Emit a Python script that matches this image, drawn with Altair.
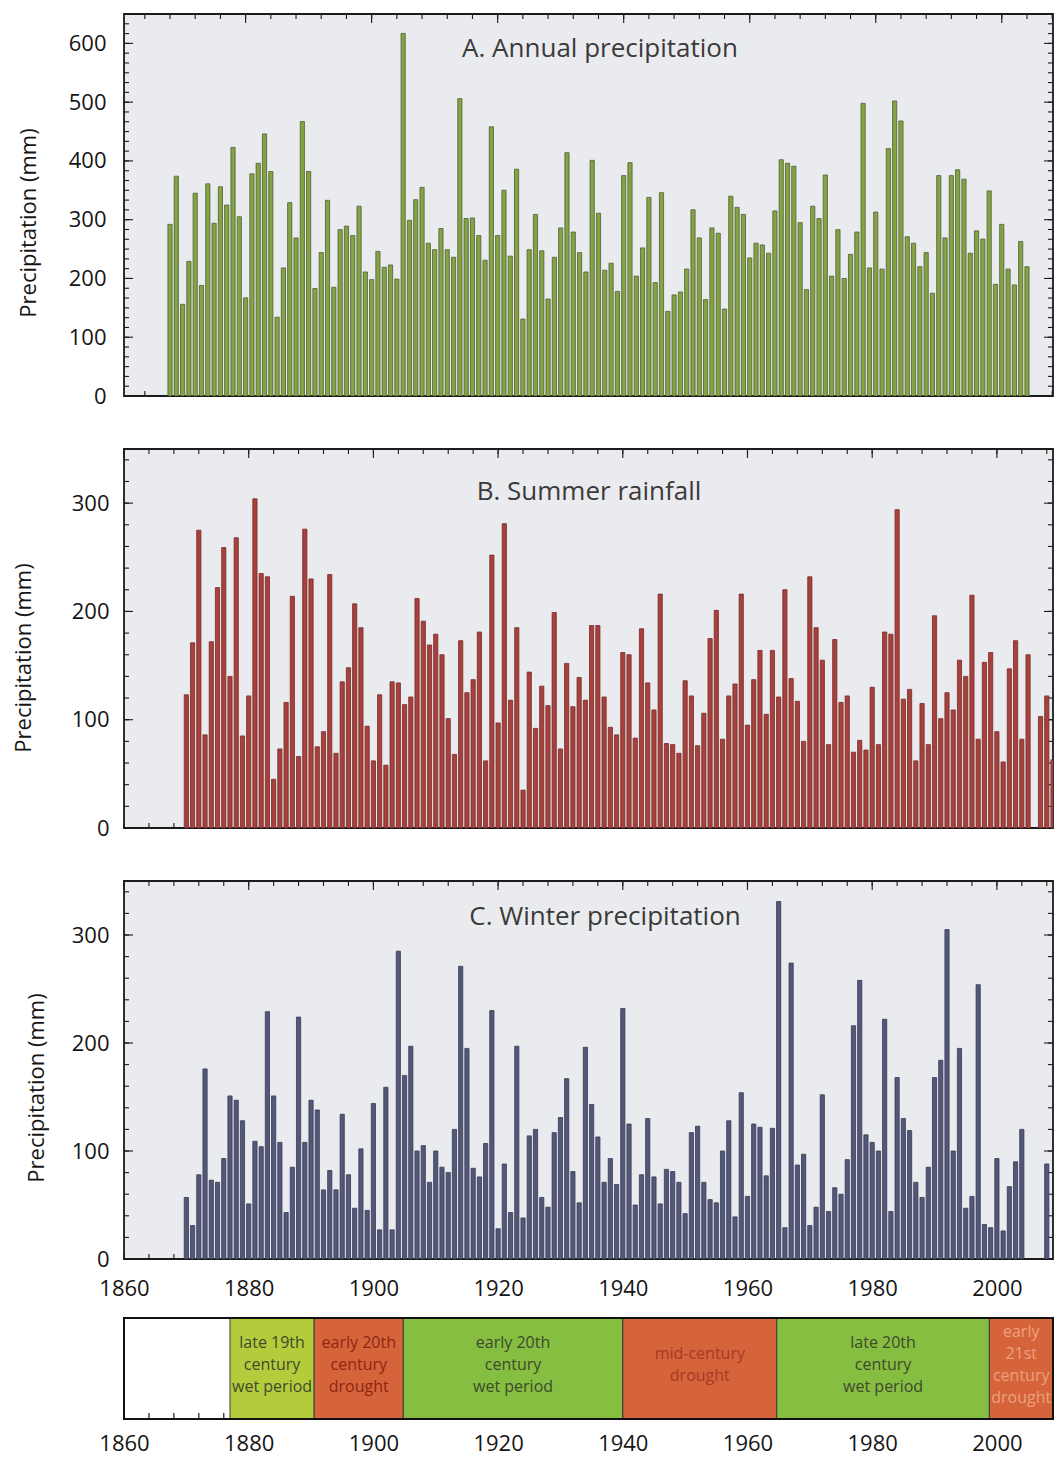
import altair as alt
import pandas as pd

# ---------------- data ----------------
annual_years = list(range(1868, 2005))
annual_mm = [292, 374, 156, 229, 345, 188, 361, 294, 356, 325,
             423, 305, 167, 378, 396, 446, 382, 134, 218, 329,
             269, 467, 382, 183, 244, 333, 185, 283, 289, 273,
             323, 211, 198, 246, 219, 223, 199, 617, 299, 334,
             355, 260, 249, 285, 249, 236, 506, 302, 303, 273,
             231, 458, 273, 350, 238, 386, 131, 249, 309, 247,
             165, 236, 286, 414, 279, 244, 211,
             401, 311, 214, 226, 178, 375, 397, 204, 252, 338,
             193, 346, 144, 172, 177, 216, 317, 269, 164, 286,
             277, 148, 340, 321, 309, 235, 260, 257, 243, 315,
             402, 396, 391, 295, 181, 323, 302, 376, 204, 283,
             200, 241, 279, 498, 218, 313, 216, 421, 502, 468,
             271, 260, 220, 244, 175, 375, 269, 375, 385, 369,
             243, 281, 267, 349, 190, 292, 216, 189, 263, 220]

summer_years = list(range(1870, 2006)) + [2007, 2008, 2009]
summer_mm = [123, 171, 275, 86, 172, 222, 259, 140, 268, 85,
             122, 304, 235, 232, 45, 73, 116, 214, 66, 276,
             230, 75, 89, 234, 69, 135, 148, 207, 185, 94,
             62, 123, 58, 135, 134, 114, 121, 212, 191, 169,
             179, 160, 101, 68, 173, 125, 137, 181, 62, 252,
             97, 281, 118, 185, 35, 144, 92, 131, 113, 199,
             73, 152, 112, 139, 118,
             187, 187, 121, 93, 86, 162, 160, 83, 184, 134,
             109, 216, 78, 77, 69, 136, 122, 76, 106, 175,
             201, 82, 122, 133, 216, 95, 137, 164, 105, 164,
             121, 220, 138, 117, 80, 232, 185, 155, 77, 174,
             116, 122, 70, 81, 72, 130, 77, 181, 179, 294,
             119, 128, 62, 115, 77, 196, 101, 125, 109, 155,
             140, 215, 82, 153, 162, 89, 61, 147, 173, 82,
             160,
             103, 122, 63]

winter_years = list(range(1870, 2005)) + [2008]
winter_mm = [57, 31, 78, 176, 73, 71, 93, 151, 147, 128,
             51, 109, 104, 229, 151, 108, 43, 85, 224, 108,
             147, 138, 64, 82, 64, 134, 78, 47, 102, 45,
             144, 27, 159, 27, 285, 170, 197,
             100, 105, 71, 100, 85, 80, 120, 271, 195, 84,
             76, 107, 230, 28, 88, 43, 197, 38, 114, 120,
             57, 48, 117, 131, 167, 81, 52, 196, 143, 113,
             71, 93, 69, 232, 125, 50, 78,
             130, 76, 51, 83, 81, 71, 42, 117, 123, 71,
             55, 52, 100, 128, 39, 154, 58, 125, 122, 77,
             121, 331, 29, 274, 87, 97, 31, 48, 152, 44,
             66, 60, 92, 216, 258, 115, 108,
             100, 222, 44, 168, 130, 119, 71, 57, 85, 168,
             184, 305, 100, 195, 47, 58, 254, 32, 29, 93,
             26, 67, 90, 120,
             88]

period_labels = ["late 19th|century|wet period",
                 "early 20th|century|drought",
                 "early 20th|century|wet period",
                 "mid-century|drought",
                 "late 20th|century|wet period",
                 "early|21st|century|drought"]
period_start = [1877, 1890.5, 1904.8, 1940, 1964.7, 1998.8]
period_end = [1890.5, 1904.8, 1940, 1964.7, 1998.8, 2009.0]
period_kind = ["late wet", "drought", "wet", "drought", "wet", "drought"]

year_labels = [1860, 1880, 1900, 1920, 1940, 1960, 1980, 2000]

# ---------------- styles ----------------
FONT = "Open Sans"
PLOT_BG = "#eaebee"
FRAME = "#1b1b1b"
TXT = "#151515"
kind_domain = ["late wet", "drought", "wet"]
kind_colors = ["#b4cc3c", "#d5643a", "#86be42"]
period_text_colors = ["#3d4a2c", "#8e2414", "#3d4a2c", "#a43a27", "#3d4a2c", "#eda07e"]

XDOM_A = [1860.7, 2008.13]
XDOM = [1860, 2009.0]
W = 929


def make_axis_x(pad):
    return alt.Axis(values=year_labels, format="d", title=None, labelFont=FONT, labelFontSize=22,
                    labelColor=TXT, labelPadding=pad, ticks=False, domain=False,
                    grid=False, labelFlush=False)


def make_x(field, dom, axis):
    return alt.X(f"{field}:Q", scale=alt.Scale(domain=dom, nice=False, zero=False, padding=0),
                 axis=axis)


def make_y(field, dom, axis):
    return alt.Y(f"{field}:Q", scale=alt.Scale(domain=dom, nice=False, zero=False, padding=0),
                 axis=axis)


def panel(years, values, xdom, width, height, ydom, yvals, ystep_minor, fill, stroke,
          title, title_x, title_y, ytitle_x, ytitle_y, label_pad, show_x):
    df = pd.DataFrame({"year": years, "mm": values})
    y_axis = alt.Axis(values=yvals, title=None, labelFont=FONT, labelFontSize=22, labelColor=TXT,
                      labelPadding=label_pad, ticks=False, domain=False, grid=False,
                      labelFlush=False)
    xa = make_axis_x(19) if show_x else None
    ymin = pd.DataFrame({"mm": [i * ystep_minor for i in range(int(ydom[1] / ystep_minor) + 1)]})
    ymaj = pd.DataFrame({"mm": yvals})
    xmin = pd.DataFrame({"year": [t for t in range(1860, 2012, 4) if xdom[0] <= t <= xdom[1]]})
    xmaj = pd.DataFrame({"year": [t for t in range(1860, 2012, 20) if xdom[0] <= t <= xdom[1]]})

    X = make_x("year", xdom, xa)
    Y = make_y("mm", ydom, y_axis)

    def rule(d):
        return alt.Chart(d).mark_rule(color=FRAME, strokeWidth=1.1)

    layers = [
        rule(ymin).encode(y=Y, x=alt.value(0), x2=alt.value(5)),
        rule(ymaj).encode(y=Y, x=alt.value(0), x2=alt.value(9)),
        rule(ymin).encode(y=Y, x=alt.value(width - 5), x2=alt.value(width)),
        rule(ymaj).encode(y=Y, x=alt.value(width - 9), x2=alt.value(width)),
        rule(xmin).encode(x=X, y=alt.value(0), y2=alt.value(5)),
        rule(xmaj).encode(x=X, y=alt.value(0), y2=alt.value(9)),
        rule(xmin).encode(x=X, y=alt.value(height - 5), y2=alt.value(height)),
    ]
    bars = alt.Chart(df).mark_bar(size=4.2, fill=fill, stroke=stroke, strokeWidth=0.8,
                                  clip=True).encode(x=X, y=Y)
    layers.append(bars)
    ttl = alt.Chart(pd.DataFrame({"t": [title]})).mark_text(
        font=FONT, fontSize=26, color="#3a3a3a", align="center", baseline="middle"
    ).encode(text="t:N", x=alt.value(title_x), y=alt.value(title_y))
    ytl = alt.Chart(pd.DataFrame({"t": ["Precipitation (mm)"]})).mark_text(
        font=FONT, fontSize=22, color=TXT, align="center", baseline="middle", angle=270
    ).encode(text="t:N", x=alt.value(ytitle_x), y=alt.value(ytitle_y))
    layers += [ttl, ytl]
    return alt.layer(*layers).properties(
        width=width, height=height,
        view=alt.ViewBackground(fill=PLOT_BG, stroke=FRAME, strokeWidth=1.8),
    )


chart_a = panel(annual_years, annual_mm, XDOM_A, W, 382, [0, 650],
                [0, 100, 200, 300, 400, 500, 600], 100 / 6, "#84a443", "#4f5e34",
                "A. Annual precipitation", 476, 35, -95, 209, 18, False)
chart_b = panel(summer_years, summer_mm, XDOM, W, 379, [0, 350],
                [0, 100, 200, 300], 20, "#a8403b", "#76292a",
                "B. Summer rainfall", 465, 43, -100, 209, 15, False)
chart_c = panel(winter_years, winter_mm, XDOM, W, 378, [0, 350],
                [0, 100, 200, 300], 20, "#545878", "#363a55",
                "C. Winter precipitation", 481, 36, -87, 207, 15, True)

# ---------------- period strip ----------------
periods = pd.DataFrame({"label": period_labels, "start": period_start,
                        "end": period_end, "kind": period_kind})
S_H = 107
SX = make_x("year", XDOM, make_axis_x(14))
strip_ticks = pd.DataFrame({"year": [t for t in range(1864, 2009, 4)]})
s_ticks = alt.Chart(strip_ticks).mark_rule(color=FRAME, strokeWidth=1.2).encode(
    x=SX, y=alt.value(S_H - 6), y2=alt.value(S_H))
s_rects = alt.Chart(periods).transform_calculate(year="datum.start").mark_rect(
    stroke="#3a3a3a", strokeWidth=1).encode(
    x=SX, x2="end:Q",
    y=alt.value(6), y2=alt.value(S_H),
    fill=alt.Fill("kind:N", scale=alt.Scale(domain=kind_domain, range=kind_colors), legend=None),
)
s_text = alt.Chart(periods).transform_calculate(
    year="(datum.start + datum.end) / 2",
    ypos="52.5 - (split(datum.label, '|').length - 1) * 11",
).mark_text(font=FONT, fontSize=16, lineHeight=22, lineBreak="|", align="center",
            baseline="middle").encode(
    x=SX, y=alt.Y("ypos:Q", scale=None, axis=None), text="label:N",
    color=alt.Color("label:N", scale=alt.Scale(domain=period_labels, range=period_text_colors),
                    legend=None),
)
s_frame = alt.Chart(pd.DataFrame({"a": [0]})).mark_rect(
    fill="white", fillOpacity=0, stroke="#111111", strokeWidth=2
).encode(x=alt.value(0), x2=alt.value(W), y=alt.value(6), y2=alt.value(S_H))

strip = alt.layer(s_ticks, s_rects, s_text, s_frame).resolve_scale(
    color="independent", fill="independent"
).properties(width=W, height=S_H,
             view=alt.ViewBackground(fill="white", stroke="transparent", strokeWidth=0))

chart = alt.vconcat(chart_a, chart_b, chart_c, strip, spacing=53, bounds="flush",
                    padding={"left": 4, "top": 4, "right": 0, "bottom": 8})

chart.save("out.html", embed_options={"renderer": "svg", "actions": False})
